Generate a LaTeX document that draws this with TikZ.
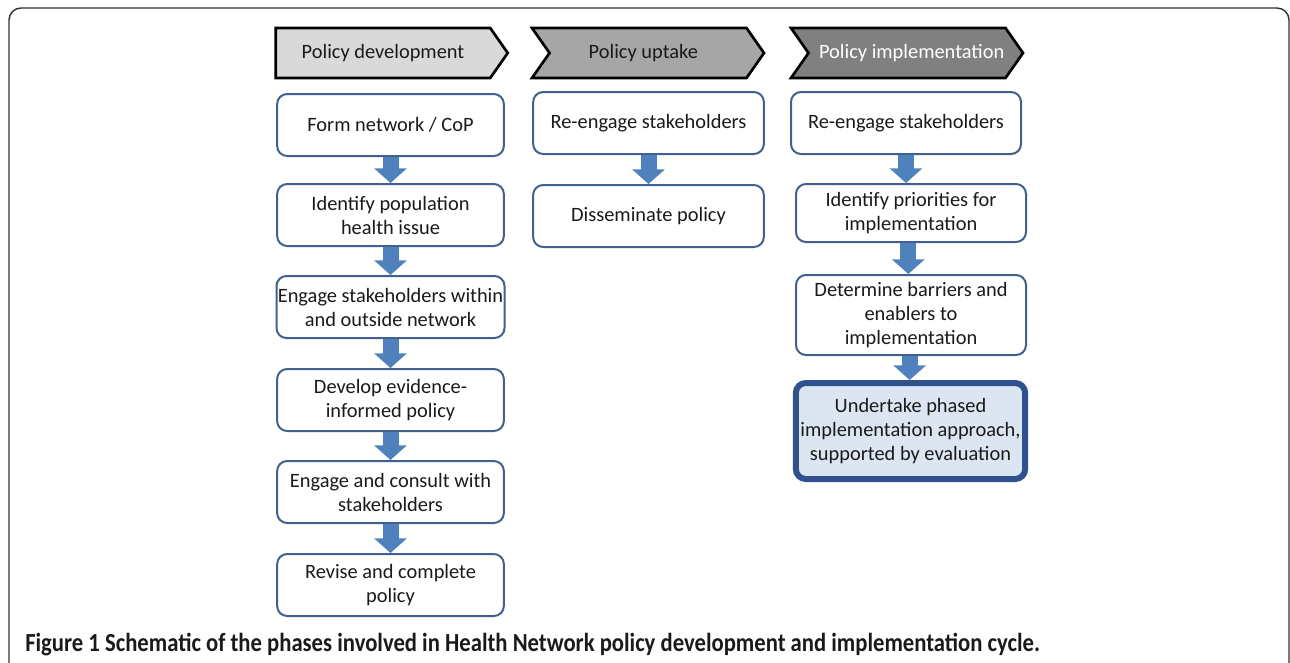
\documentclass[tikz,border=0pt]{standalone}
\usepackage{fontspec}
\setmainfont{Carlito}
\usepackage{xcolor}
\usetikzlibrary{positioning, shapes.symbols, arrows.meta}

\definecolor{boxline}{HTML}{41608F}
\definecolor{flowblue}{HTML}{4F81BD}
\definecolor{keyline}{HTML}{2F528F}
\definecolor{keyfill}{HTML}{DCE6F2}
\definecolor{textgray}{HTML}{1A1A1A}
\definecolor{head-light}{HTML}{D9D9D9}
\definecolor{head-mid}{HTML}{A6A6A6}
\definecolor{head-dark}{HTML}{808080}

\begin{document}
\begin{tikzpicture}
[
x = 0.75pt, y = -0.75pt,
box-a/.style={draw=boxline, line width=1.5pt, rounded corners=7.5pt, fill=white, align=center,
              minimum width=170pt, minimum height=46.5pt, inner sep=1pt, text=textgray,
              font=\fontsize{15.3}{18}\selectfont},
box-b/.style={box-a, minimum width=173pt},
box-c/.style={box-a, minimum width=172.5pt},
box-d/.style={box-a, draw=keyline, fill=keyfill, line width=4.5pt, minimum width=172pt, minimum height=72pt},
head-a/.style={signal, signal to=east, draw=black, line width=2pt, signal pointer angle=110,
               minimum width=174pt, minimum height=37.5pt, inner sep=0pt, text=textgray,
               font=\fontsize{15.3}{18}\selectfont},
head-b/.style={head-a, signal from=west},
flow/.style={draw=flowblue, line width=12pt, -{Triangle[width=24pt, length=11pt]}},
frame/.style={draw=black!80, line width=1.1pt, rounded corners=9pt},
text-a/.style={textgray}
]

\useasboundingbox (0,0) rectangle (1290,662);
\clip (0,0) rectangle (1290,662);
\draw [frame] (9,8) rectangle (1289,720);

% phase headers
\node (head-dev)  [head-a, fill=head-light]              at (383,53)  {Policy development};
\node (head-up)   [head-b, fill=head-mid]                at (648,53)  {\raisebox{3pt}{Policy uptake}\hspace*{7pt}};
\node (head-impl) [head-b, fill=head-dark, text=white]   at (907,53)  {\raisebox{2pt}{\hspace*{7pt}Policy implementation}};

% policy development
\node (dev-1) [box-a]                           at (390.5,125) {Form network / CoP};
\node (dev-2) [box-a, below = 19.50pt of dev-1] {Identify population\\health issue};
\node (dev-3) [box-a, below = 21.00pt of dev-2] {Engage stakeholders within\\and outside network};
\node (dev-4) [box-a, below = 21.75pt of dev-3] {Develop evidence-\\informed policy};
\node (dev-5) [box-a, below = 21.00pt of dev-4] {Engage and consult with\\stakeholders};
\node (dev-6) [box-a, below = 21.75pt of dev-5] {Revise and complete\\policy};

% policy uptake
\node (up-1) [box-b]                          at (648.5,123) {Re-engage stakeholders};
\node (up-2) [box-b, below = 21.75pt of up-1] {Disseminate policy};

% policy implementation
\node (impl-1) [box-c]                                          at (906,123) {Re-engage stakeholders};
\node (impl-2) [box-c, minimum height=43.5pt]                   at (911,213) {Identify priorities for\\implementation};
\node (impl-3) [box-c, minimum height=60pt]                     at (911,315) {Determine barriers and\\enablers to\\implementation};
\node (impl-4) [box-d]                                          at (910.5,431) {Undertake phased\\implementation approach,\\supported by evaluation};

\draw [flow] (dev-1.south) -- (dev-2.north);
\draw [flow] (dev-2.south) -- (dev-3.north);
\draw [flow] (dev-3.south) -- (dev-4.north);
\draw [flow] (dev-4.south) -- (dev-5.north);
\draw [flow] (dev-5.south) -- (dev-6.north);
\draw [flow] (up-1.south) -- (up-2.north);
\draw [flow] (impl-1.south) -- (impl-1.south |- impl-2.north);
\draw [flow] ([xshift=-2pt]impl-2.south) -- ([xshift=-2pt]impl-2.south |- impl-3.north);
\draw [flow] ([xshift=-1pt]impl-3.south) -- ([xshift=-1pt]impl-3.south |- impl-4.north);

\node (caption) [text-a, anchor=base west, inner sep=0pt, font=\fontsize{17}{18}\selectfont\bfseries]
  at (25,651) {\scalebox{1}[1.15]{Figure 1 Schematic of the phases involved in Health Network policy development and implementation cycle.}};

\end{tikzpicture}
\end{document}
